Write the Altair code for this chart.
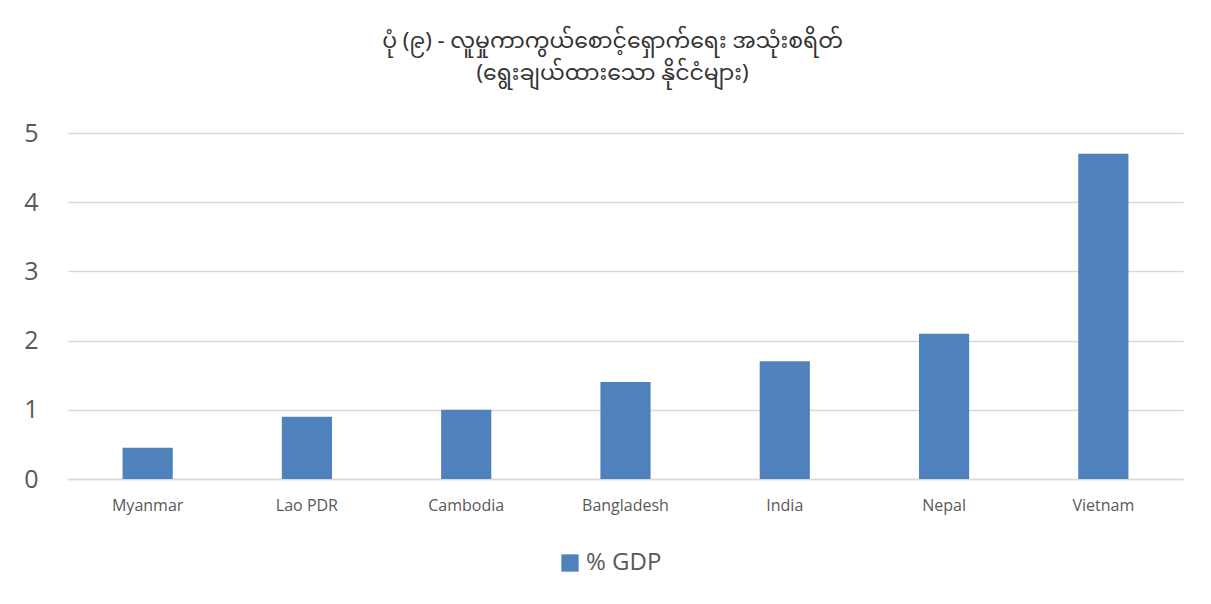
import altair as alt
import pandas as pd

countries = ["Myanmar", "Lao PDR", "Cambodia", "Bangladesh", "India", "Nepal", "Vietnam"]
values = [0.45, 0.9, 1.0, 1.4, 1.7, 2.1, 4.7]
series = ["% GDP"] * len(countries)

df = pd.DataFrame({"country": countries, "value": values, "series": series})

title_lines = ["ပုံ (၉) - လူမှုကာကွယ်စောင့်ရှောက်ရေး အသုံးစရိတ်", "(ရွေးချယ်ထားသော နိုင်ငံများ)"]

chart = alt.Chart(df).mark_bar(color="#4f81bd").encode(
    x=alt.X("country:N", sort=countries, title=None,
            scale=alt.Scale(paddingInner=0.685, paddingOuter=0.3425),
            axis=alt.Axis(labelAngle=0, labelFontSize=16, labelColor="#595959",
                          ticks=False, domain=True, domainColor="#d9d9d9", domainWidth=1.5,
                          labelPadding=18, labelFont="Open Sans")),
    y=alt.Y("value:Q", title=None,
            scale=alt.Scale(domain=[0, 5], nice=False),
            axis=alt.Axis(values=[0, 1, 2, 3, 4, 5], labelFontSize=25, labelColor="#595959",
                          ticks=False, domain=False, gridColor="#d9d9d9", gridWidth=1.5,
                          labelPadding=30, labelFont="Open Sans")),
    fill=alt.Fill("series:N", scale=alt.Scale(range=["#4f81bd"]),
                  legend=alt.Legend(title=None, orient="none", legendX=490, legendY=418,
                                    symbolType="square", symbolSize=300, symbolStrokeWidth=0,
                                    labelFontSize=24, labelColor="#595959", labelFont="Open Sans")),
).properties(
    width=1115,
    height=346,
    title=alt.TitleParams(text=title_lines, fontSize=22, fontWeight="normal", color="#333333",
                          anchor="middle", dx=-13, offset=36, lineHeight=32,
                          font="Noto Sans Myanmar, Padauk, Noto Sans, sans-serif"),
    autosize=alt.AutoSizeParams(type="none"),
    padding={"left": 60, "top": 125, "right": 20, "bottom": 110},
    background="white",
).configure_view(stroke=None)

chart.save("out.html", embed_options={"renderer": "svg", "actions": False})
